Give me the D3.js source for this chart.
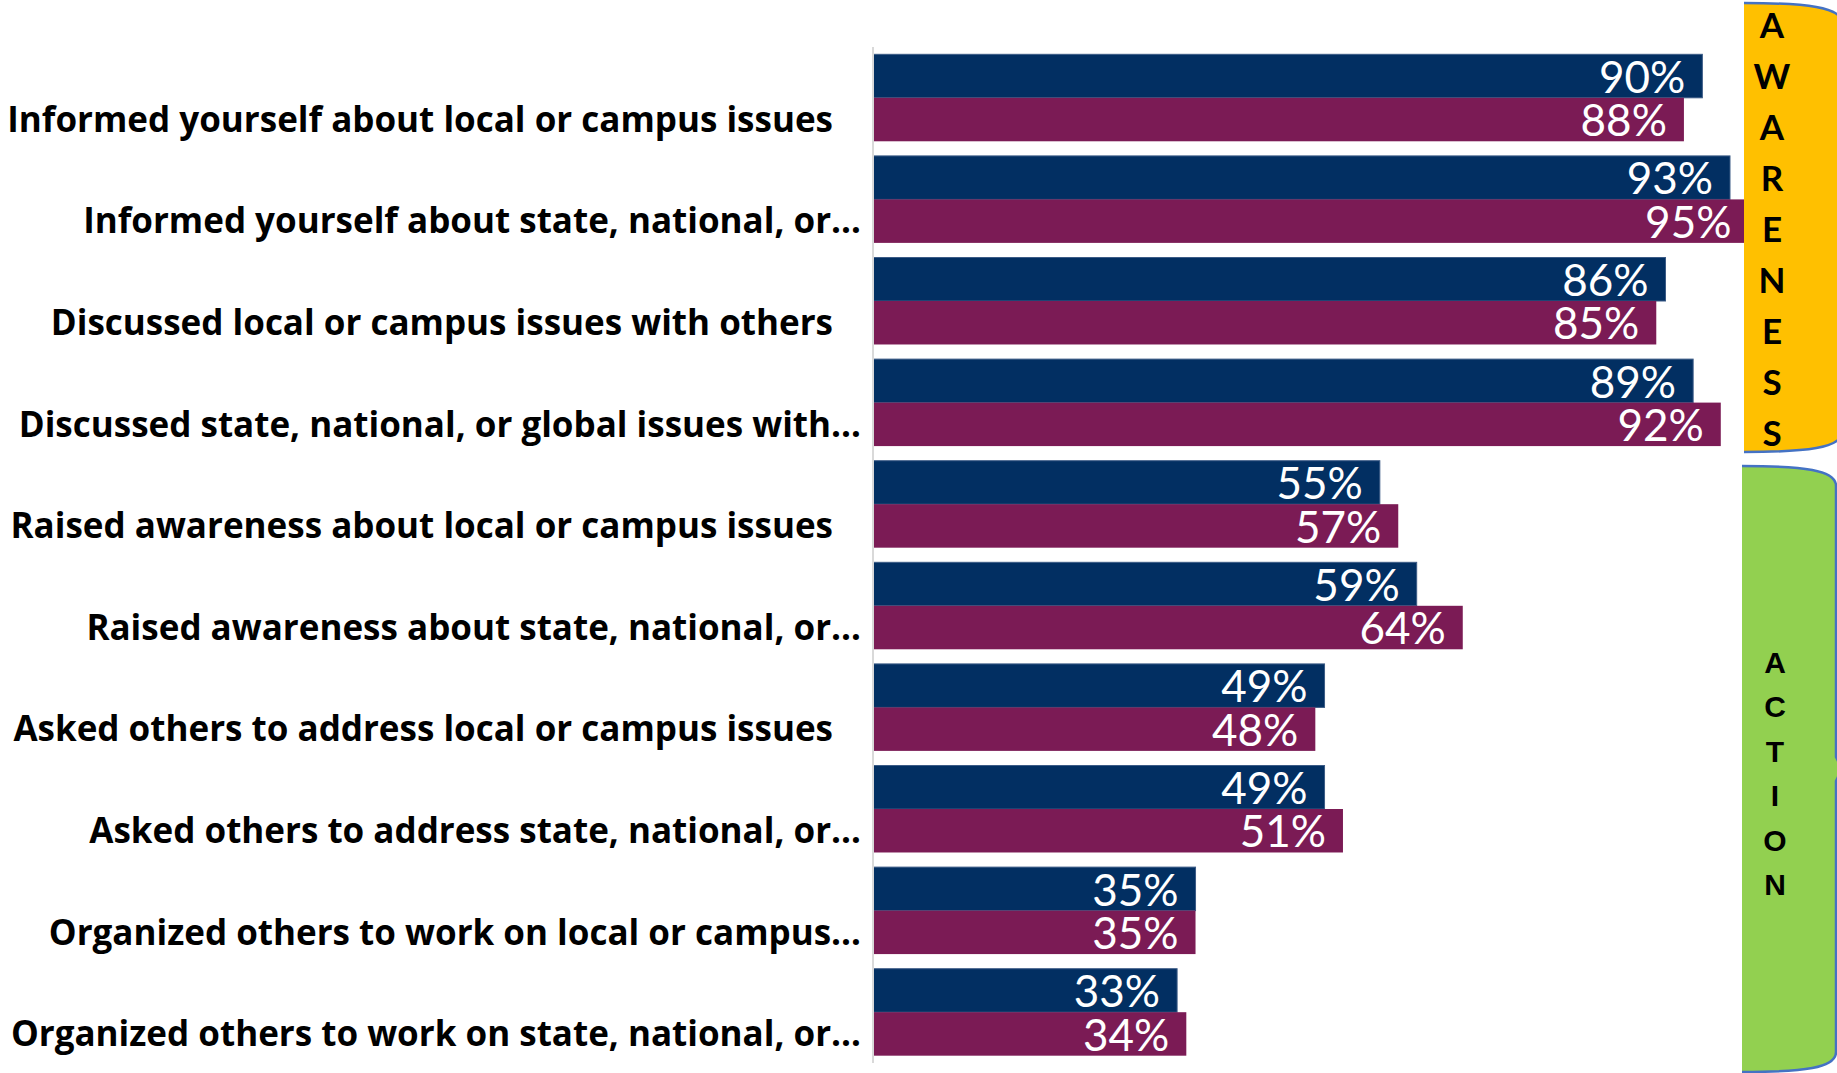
<!DOCTYPE html>
<html>
<head>
<meta charset="utf-8">
<script src="https://cdn.jsdelivr.net/npm/d3@7/dist/d3.min.js"></script>
<style>
  html, body { margin: 0; padding: 0; background: #ffffff; }
  svg { display: block; }
</style>
</head>
<body>
<svg id="chart" width="1837" height="1073"></svg>
<script>
// Survey items (as shown on the category axis)
const categories = [
  "Informed yourself about local or campus issues",
  "Informed yourself about state, national, or…",
  "Discussed local or campus issues with others",
  "Discussed state, national, or global issues with…",
  "Raised awareness about local or campus issues",
  "Raised awareness about state, national, or…",
  "Asked others to address local or campus issues",
  "Asked others to address state, national, or…",
  "Organized others to work on local or campus…",
  "Organized others to work on state, national, or…"
];

// Percent of respondents, first (navy) and second (plum) series
const seriesA = [90, 93, 86, 89, 55, 59, 49, 49, 35, 33];
const seriesB = [88, 95, 85, 92, 57, 64, 48, 51, 35, 34];

const seriesColors = ["#022f62", "#7b1b55"];

// Side group markers
const groups = [
  { name: "AWARENESS", from: 0, to: 3, fill: "#ffc000" },
  { name: "ACTION", from: 4, to: 9, fill: "#92d050" }
];

const svg = d3.select("#chart");

const x = d3.scaleLinear().domain([0, 100]).range([873, 1794.5]);
const y = d3.scaleBand()
  .domain(categories)
  .range([47, 1063])
  .paddingInner(0.144)
  .paddingOuter(0.072);
const sub = d3.scaleBand().domain([0, 1]).range([0, y.bandwidth()]);

const rows = categories.map((c, i) => ({ cat: c, vals: [seriesA[i], seriesB[i]] }));

// Bars
const barG = svg.append("g");
rows.forEach(r => {
  r.vals.forEach((v, k) => {
    barG.append("rect")
      .attr("x", x(0))
      .attr("y", y(r.cat) + sub(k))
      .attr("width", x(v) - x(0))
      .attr("height", sub.bandwidth())
      .attr("fill", seriesColors[k])
      .attr("stroke", k === 0 ? "#3b5b86" : "none")
      .attr("stroke-width", 1);
  });
});

// Value labels, inside the bar end
const valG = svg.append("g");
rows.forEach(r => {
  r.vals.forEach((v, k) => {
    valG.append("text")
      .attr("x", x(v) - 17)
      .attr("y", y(r.cat) + sub(k) + sub.bandwidth() - 5)
      .attr("text-anchor", "end")
      .attr("fill", "#ffffff")
      .style("font-family", "Lato, 'Open Sans', sans-serif")
      .style("font-size", "44px")
      .text(v + "%");
  });
});

// Category axis line
svg.append("line")
  .attr("x1", x(0)).attr("x2", x(0))
  .attr("y1", 47).attr("y2", 1063)
  .attr("stroke", "#d9d9d9")
  .attr("stroke-width", 2);

// Category labels: truncated items hug the axis, full items keep a gap
const labG = svg.append("g");
categories.forEach(c => {
  const cut = c.endsWith("…");
  labG.append("text")
    .attr("x", cut ? 861 : 833)
    .attr("y", y(c) + y.bandwidth() / 2 + 34)
    .attr("text-anchor", "end")
    .attr("fill", "#000000")
    .style("font-family", "'Open Sans', Lato, sans-serif")
    .style("font-weight", "bold")
    .style("font-size", "35px")
    .text(c);
});

// Brace-shaped group markers on the right
function braceOutline(x0, top, bot, xr, notch) {
  const mid = (top + bot) / 2;
  const p = d3.path();
  p.moveTo(x0, top);
  p.bezierCurveTo(x0 + 62, top, xr, top + 4, xr, top + 20);
  p.lineTo(xr, mid - 12);
  p.lineTo(xr + notch, mid);
  p.lineTo(xr, mid + 12);
  p.lineTo(xr, bot - 20);
  p.bezierCurveTo(xr, bot - 4, x0 + 62, bot, x0, bot);
  return p.toString();
}

const bandSpecs = [
  { g: groups[0], x0: 1744, top: 3, bot: 452, xr: 1842, letterX: 1772, first: 25.5, step: 51, size: 35, font: "Lato, 'Open Sans', sans-serif" },
  { g: groups[1], x0: 1742, top: 466, bot: 1072, xr: 1836, letterX: 1775, first: 662, step: 44.5, size: 30, font: "'Liberation Sans', Arial, sans-serif" }
];

bandSpecs.forEach(b => {
  const d = braceOutline(b.x0, b.top, b.bot, b.xr, 6);
  svg.append("path")
    .attr("d", d + "Z")
    .attr("fill", b.g.fill)
    .attr("stroke", "none");
  svg.append("path")
    .attr("d", d)
    .attr("fill", "none")
    .attr("stroke", "#4472c4")
    .attr("stroke-width", 2.5);
  const letters = b.g.name.split("");
  letters.forEach((ch, i) => {
    svg.append("text")
      .attr("x", b.letterX)
      .attr("y", b.first + i * b.step + b.size * 0.36)
      .attr("text-anchor", "middle")
      .attr("fill", "#000000")
      .style("font-family", b.font)
      .style("font-weight", "bold")
      .style("font-size", b.size + "px")
      .text(ch);
  });
});
</script>
</body>
</html>
